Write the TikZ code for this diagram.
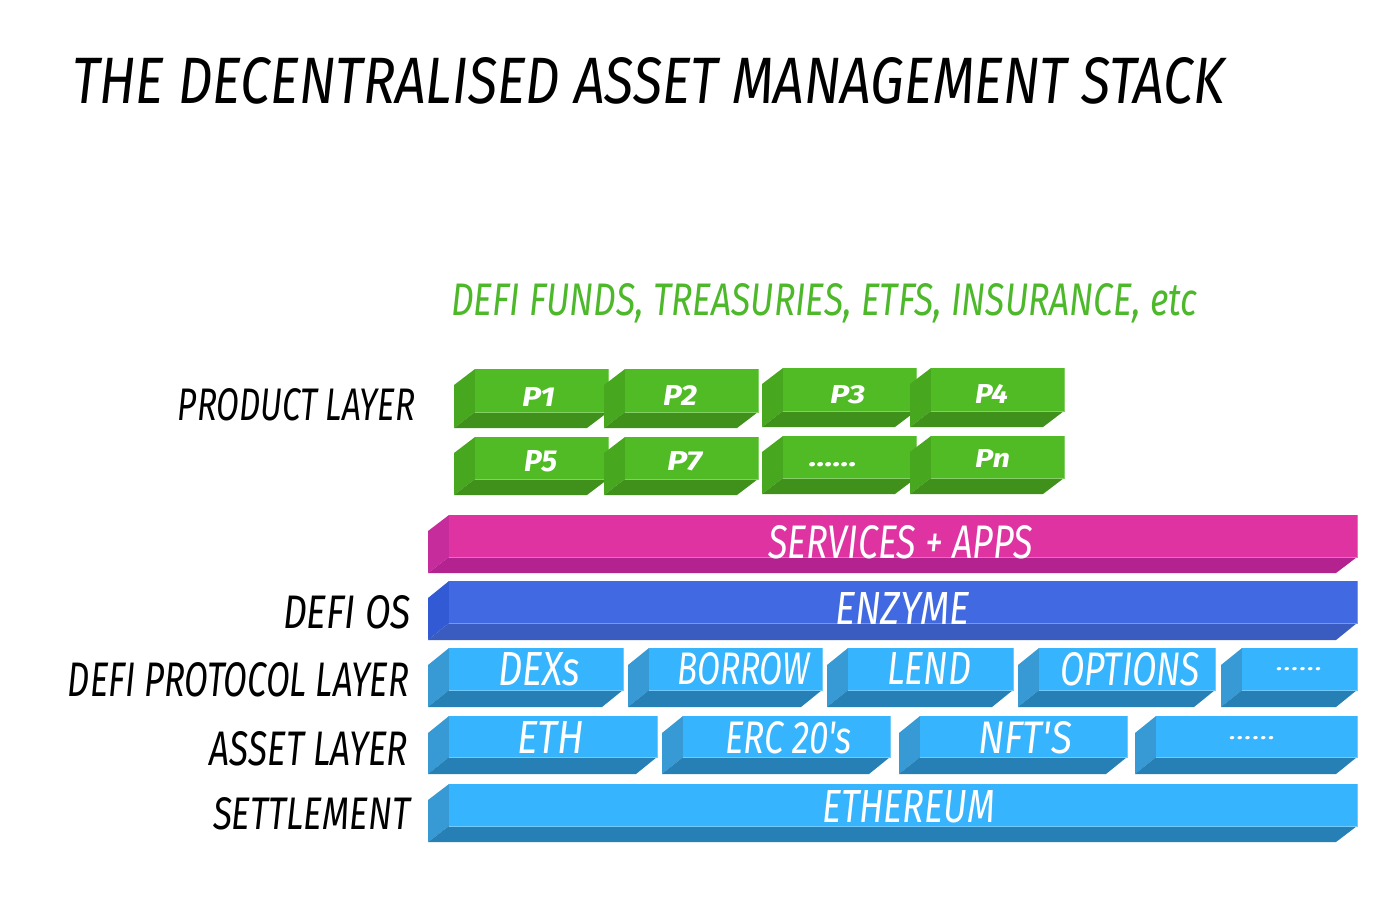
\documentclass[tikz,border=0pt]{standalone}
\usepackage{fontspec}
\setmainfont{Fira Sans}
\newfontfamily\handfont{Fira Sans}
\newfontfamily\boldfont{Fira Sans}
\usepackage{graphicx}
\newdimen\ux \ux=0.5pt
% fit text into W x H (pixel units), depth removed
\newcommand\fitt[3]{\resizebox{#1\ux}{#2\ux}{\raisebox{0pt}[\height][0pt]{#3}}}
\definecolor{gF}{HTML}{50BB25}\definecolor{gS}{HTML}{47A820}\definecolor{gB}{HTML}{3F911C}
\definecolor{pF}{HTML}{E033A2}\definecolor{pS}{HTML}{C62C9C}\definecolor{pB}{HTML}{B3228F}
\definecolor{eF}{HTML}{4169E1}\definecolor{eS}{HTML}{325AD5}\definecolor{eB}{HTML}{3A5BC0}
\definecolor{lF}{HTML}{36B4FD}\definecolor{lS}{HTML}{379AD4}\definecolor{lB}{HTML}{2780B5}
\definecolor{subgreen}{HTML}{4CB82A}
% x0 y0 x1 y1 e front side bottom
\newcommand\blk[8]{%
  \fill[#7] (#1+21,#2) -- (#1,#2+#5) -- (#1,#4) -- (#1+21,#4-#5) -- cycle;
  \fill[#8] (#1+21,#4-#5) -- (#3,#4-#5) -- (#3-21,#4) -- (#1,#4) -- cycle;
  \fill[#6] (#1+21,#2) rectangle (#3,#4-#5);
  \draw[#6!70!white, line width=0.4pt] (#1+21,#4-#5) -- (#3,#4-#5) -- (#3,#2);
}
\tikzset{
  txt/.style={inner sep=0pt, outer sep=0pt, anchor=south west},
  rtxt/.style={inner sep=0pt, outer sep=0pt, anchor=south east},
  hand/.style={font=\handfont\itshape},
  pbold/.style={font=\boldfont\bfseries\itshape, text=white},
}
\begin{document}
\begin{tikzpicture}[x=0.5pt, y=-0.5pt]
\useasboundingbox[fill=white] (0,0) rectangle (1400,918);

% title
\node[txt, hand] (title) at (72,103) {\fitt{1153}{46}{THE DECENTRALISED ASSET MANAGEMENT STACK}};
\node[txt, hand, text=subgreen] (sub) at (451,315) {\fitt{746}{32}{DEFI FUNDS, TREASURIES, ETFS, INSURANCE, etc}};

% left labels
\node[rtxt, hand] (lprod) at (415,420) {\fitt{237}{32}{PRODUCT LAYER}};
\node[rtxt, hand] (los) at (411,628) {\fitt{128}{33}{DEFI OS}};
\node[rtxt, hand] (lproto) at (409,696) {\fitt{341}{34}{DEFI PROTOCOL LAYER}};
\node[rtxt, hand] (lasset) at (408,765) {\fitt{198}{34}{ASSET LAYER}};
\node[rtxt, hand] (lsettle) at (410,829) {\fitt{197}{32}{SETTLEMENT}};

% product layer
\blk{454}{369}{608}{428}{16}{gF}{gS}{gB}
\blk{604}{369}{758}{428}{16}{gF}{gS}{gB}
\blk{762}{368}{916}{427}{16}{gF}{gS}{gB}
\blk{910}{368}{1064}{427}{16}{gF}{gS}{gB}
\blk{454}{437}{608}{495}{16}{gF}{gS}{gB}
\blk{604}{437}{758}{495}{16}{gF}{gS}{gB}
\blk{762}{436}{916}{494}{16}{gF}{gS}{gB}
\blk{910}{436}{1064}{494}{16}{gF}{gS}{gB}
\node[txt, pbold] (p1) at (522,406) {\fitt{33}{19}{P1}};
\node[txt, pbold] (p2) at (663,405) {\fitt{34}{20}{P2}};
\node[txt, pbold] (p3) at (830,403) {\fitt{35}{18}{P3}};
\node[txt, pbold] (p4) at (975,403) {\fitt{33}{19}{P4}};
\node[txt, pbold] (p5) at (524,471) {\fitt{33}{21}{P5}};
\node[txt, pbold] (p7) at (667,470) {\fitt{35}{19}{P7}};
\node[txt, pbold] (pdots) at (809,466) {\fitt{48}{4}{......}};
\node[txt, pbold] (pn) at (975,467) {\fitt{35}{18}{Pn}};

% services + apps
\blk{428}{515}{1357}{573}{16}{pF}{pS}{pB}
\node[txt, hand, text=white] (services) at (768,558) {\fitt{265}{33}{SERVICES + APPS}};

% enzyme
\blk{428}{581}{1357}{640}{17}{eF}{eS}{eB}
\node[txt, hand, text=white] (enzyme) at (835,624) {\fitt{135}{32}{ENZYME}};

% protocol layer
\blk{428}{648}{623}{707}{17}{lF}{lS}{lB}
\blk{628}{648}{822}{707}{17}{lF}{lS}{lB}
\blk{827}{648}{1013}{707}{17}{lF}{lS}{lB}
\blk{1018}{648}{1215}{707}{17}{lF}{lS}{lB}
\blk{1221}{648}{1357}{707}{17}{lF}{lS}{lB}
\node[txt, hand, text=white] (dexs) at (498,685) {\fitt{82}{33}{DEXs}};
\node[txt, hand, text=white] (borrow) at (677,684) {\fitt{133}{32}{BORROW}};
\node[txt, hand, text=white] (lend) at (887,684) {\fitt{84}{32}{LEND}};
\node[txt, hand, text=white] (options) at (1060,685) {\fitt{140}{33}{OPTIONS}};
\node[txt, hand, text=white] (prdots) at (1276,670) {\fitt{47}{3}{......}};

% asset layer
\blk{428}{716}{657}{774}{17}{lF}{lS}{lB}
\blk{662}{716}{890}{774}{17}{lF}{lS}{lB}
\blk{899}{716}{1127}{774}{17}{lF}{lS}{lB}
\blk{1135}{716}{1357}{774}{17}{lF}{lS}{lB}
\node[txt, hand, text=white] (eth) at (517,753) {\fitt{67}{32}{ETH}};
\node[txt, hand, text=white] (erc) at (725,753) {\fitt{127}{32}{ERC 20's}};
\node[txt, hand, text=white] (nft) at (978,753) {\fitt{94}{32}{NFT'S}};
\node[txt, hand, text=white] (asdots) at (1229,739) {\fitt{47}{3}{......}};

% settlement
\blk{428}{784}{1357}{842}{16}{lF}{lS}{lB}
\node[txt, hand, text=white] (ethereum) at (822,822) {\fitt{173}{32}{ETHEREUM}};
\end{tikzpicture}
\end{document}
